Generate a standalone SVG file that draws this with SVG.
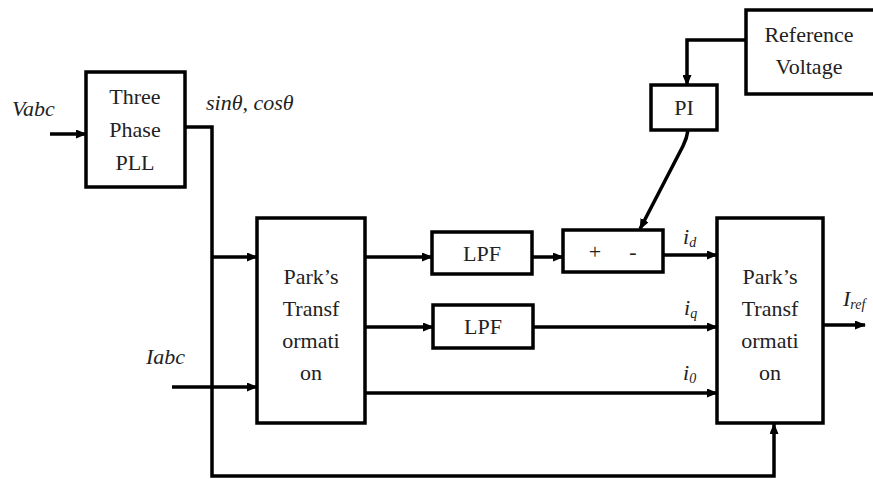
<svg xmlns="http://www.w3.org/2000/svg" width="873" height="479" viewBox="0 0 873 479">
<defs>
<marker id="ah" markerWidth="11" markerHeight="9" refX="10" refY="4.5" orient="auto" markerUnits="userSpaceOnUse">
<path d="M0,0 L11,4.5 L0,9 Z" fill="#000"/>
</marker>
<style>
.box{fill:#fff;stroke:#000;stroke-width:3.5}
.ln{fill:none;stroke:#000;stroke-width:3.5}
text{font-family:'Liberation Serif','DejaVu Serif',serif;font-size:22px;fill:#222}
.t{text-anchor:middle}
.i{font-style:italic}
.s{font-size:14px}
</style>
</defs>
<rect width="873" height="479" fill="#fff"/>
<g id="connectors">
<line class="ln" x1="50" y1="134" x2="86" y2="134" marker-end="url(#ah)"/>
<polyline class="ln" points="185,127 212,127 212,476 774,476 774,424" marker-end="url(#ah)"/>
<line class="ln" x1="212" y1="257" x2="257" y2="257" marker-end="url(#ah)"/>
<line class="ln" x1="172" y1="387" x2="257" y2="387" marker-end="url(#ah)"/>
<line class="ln" x1="365" y1="257" x2="432" y2="257" marker-end="url(#ah)"/>
<line class="ln" x1="532" y1="257" x2="563" y2="257" marker-end="url(#ah)"/>
<line class="ln" x1="663" y1="255" x2="717" y2="255" marker-end="url(#ah)"/>
<line class="ln" x1="365" y1="327" x2="433" y2="327" marker-end="url(#ah)"/>
<line class="ln" x1="533" y1="327" x2="717" y2="327" marker-end="url(#ah)"/>
<line class="ln" x1="365" y1="393" x2="717" y2="393" marker-end="url(#ah)"/>
<line class="ln" x1="823" y1="325" x2="865" y2="325" marker-end="url(#ah)"/>
<polyline class="ln" points="746,40 687,40 687,85" marker-end="url(#ah)"/>
<path class="ln" d="M688,130 Q687,138 683,146 L640,229" marker-end="url(#ah)"/>
</g>
<g id="pll">
<rect class="box" x="86" y="72" width="99" height="115"/>
<text class="t" x="135" y="104" font-family="Liberation Serif">Three</text>
<text class="t" x="135" y="137" font-family="Liberation Serif">Phase</text>
<text class="t" x="135" y="170" font-family="Liberation Serif">PLL</text>
</g>
<g id="park1">
<rect class="box" x="257" y="218" width="108" height="205"/>
<text class="t" x="311" y="284">Park’s</text>
<text class="t" x="311" y="316">Transf</text>
<text class="t" x="311" y="348">ormati</text>
<text class="t" x="311" y="380">on</text>
</g>
<g id="lpf1">
<rect class="box" x="432" y="232" width="100" height="42"/>
<text class="t" x="482" y="261">LPF</text>
</g>
<g id="lpf2">
<rect class="box" x="433" y="305" width="100" height="43"/>
<text class="t" x="483" y="334">LPF</text>
</g>
<g id="sum">
<rect class="box" x="563" y="230" width="100" height="42"/>
<text class="t" x="595" y="259">+</text>
<text class="t" x="633" y="259">-</text>
</g>
<g id="pi">
<rect class="box" x="651" y="85" width="66" height="45"/>
<text class="t" x="684" y="115">PI</text>
</g>
<g id="refv">
<rect class="box" x="746" y="10" width="130" height="84"/>
<text class="t" x="809" y="42">Reference</text>
<text class="t" x="809" y="74">Voltage</text>
</g>
<g id="park2">
<rect class="box" x="717" y="218" width="106" height="205"/>
<text class="t" x="770" y="284">Park’s</text>
<text class="t" x="770" y="316">Transf</text>
<text class="t" x="770" y="348">ormati</text>
<text class="t" x="770" y="380">on</text>
</g>
<g id="labels">
<text class="i" x="12" y="116">Vabc</text>
<text class="i" x="206" y="110">sinθ, cosθ</text>
<text class="i" x="146" y="364">Iabc</text>
<text class="i" x="683" y="244">i<tspan class="s" dy="3">d</tspan></text>
<text class="i" x="684" y="315">i<tspan class="s" dy="3">q</tspan></text>
<text class="i" x="683" y="380">i<tspan class="s" dy="3">0</tspan></text>
<text class="i" x="843" y="306">I<tspan class="s" dy="3">ref</tspan></text>
</g>
</svg>
